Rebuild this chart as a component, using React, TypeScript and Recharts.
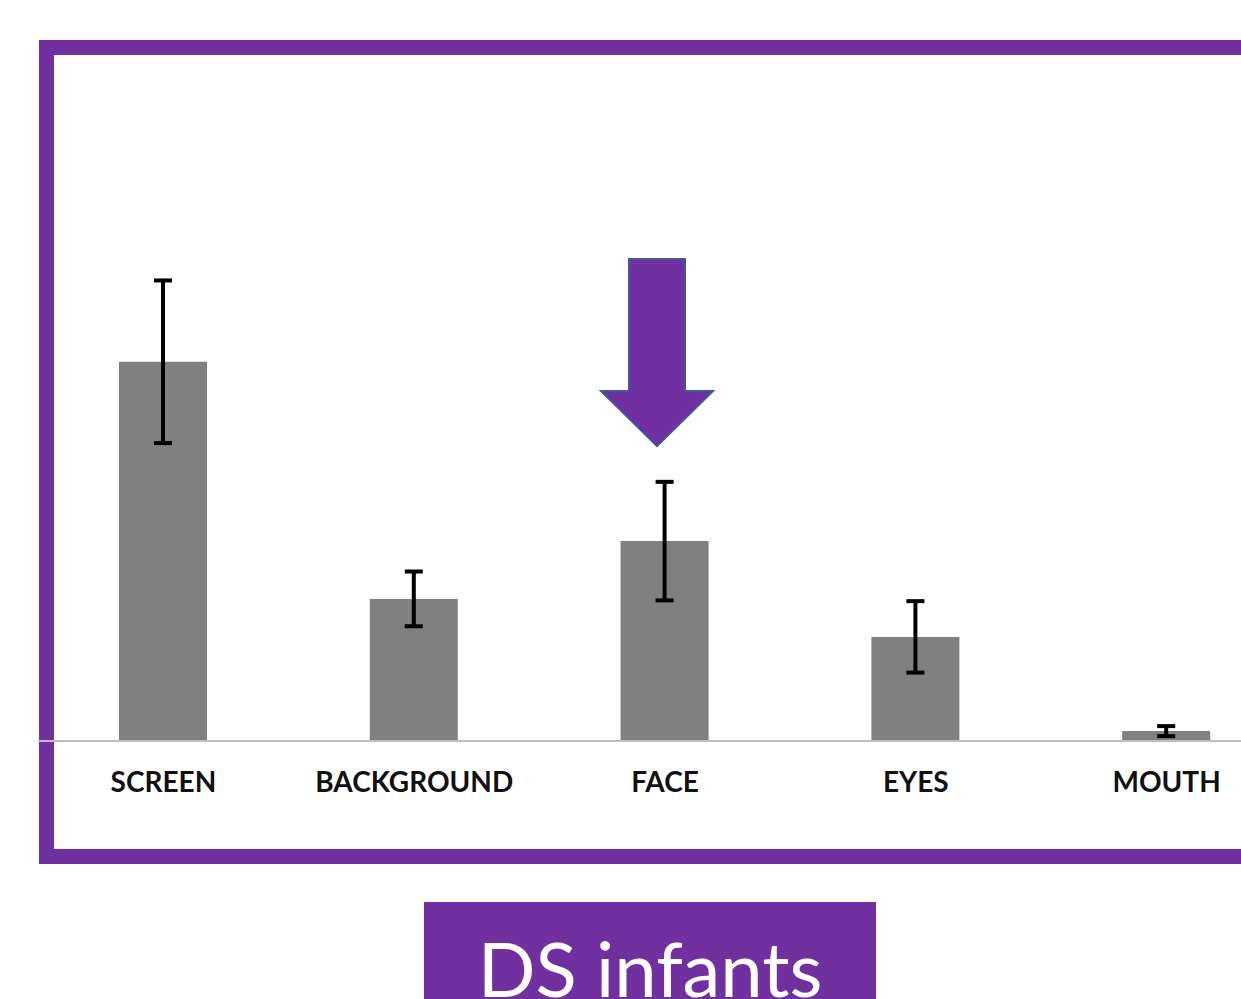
import { BarChart, Bar, XAxis, YAxis, ErrorBar, ReferenceDot } from 'recharts'

// looking-time proportions per area of interest
const categories = ['SCREEN', 'BACKGROUND', 'FACE', 'EYES', 'MOUTH']
const means = [0.499, 0.187, 0.263, 0.137, 0.013]
const errors = [0.107, 0.036, 0.078, 0.047, 0.0066]

const PURPLE = '#7030A0'

const data = categories.map((name, i) => ({
  name,
  value: means[i],
  err: errors[i],
}))

// down arrow pointing at the FACE bar; tip sits at the dot position (drawn a little left of centre, as in the slide)
const Arrow = (props: any) => {
  const cx = props.cx - 8
  const cy = props.cy
  const shaftW = 56
  const headW = 112
  const headH = 55
  const total = 187
  const top = cy - total
  const neck = cy - headH
  const d = [
    `M${cx - shaftW / 2},${top}`,
    `L${cx + shaftW / 2},${top}`,
    `L${cx + shaftW / 2},${neck}`,
    `L${cx + headW / 2},${neck}`,
    `L${cx},${cy}`,
    `L${cx - headW / 2},${neck}`,
    `L${cx - shaftW / 2},${neck}`,
    'Z',
  ].join(' ')
  return <path d={d} fill={PURPLE} stroke="#41589C" strokeWidth={2} />
}

export default function App() {
  return (
    <div
      style={{
        position: 'absolute',
        left: 0,
        top: 0,
        width: 1241,
        height: 999,
        overflow: 'hidden',
        background: '#fff',
        fontFamily: 'Lato, sans-serif',
      }}
    >
      <div
        style={{
          position: 'absolute',
          left: 39,
          top: 40,
          width: 1300,
          height: 794,
          border: `15px solid ${PURPLE}`,
        }}
      />
      <div style={{ position: 'absolute', left: 0, top: 0 }}>
        <BarChart
          width={1300}
          height={900}
          data={data}
          margin={{ top: 57, right: 8, left: 38, bottom: 0 }}
          barCategoryGap={0}
        >
          <YAxis hide domain={[0, 0.9]} />
          <XAxis
            dataKey="name"
            height={159}
            tickLine={false}
            axisLine={{ stroke: '#BFBFBF', strokeWidth: 2 }}
            tickMargin={25}
            tick={{ fill: '#111', fontSize: 28, fontWeight: 700, fontFamily: 'Lato, sans-serif' }}
            interval={0}
          />
          <Bar dataKey="value" fill="#808080" barSize={88} isAnimationActive={false}>
            <ErrorBar dataKey="err" width={9} stroke="#000" strokeWidth={4} />
          </Bar>
          <ReferenceDot x="FACE" y={0.388} ifOverflow="visible" shape={Arrow} />
        </BarChart>
      </div>
      <div
        style={{
          position: 'absolute',
          left: 424,
          top: 902,
          width: 452,
          height: 120,
          background: PURPLE,
          color: '#fff',
          fontFamily: 'Lato, sans-serif',
          fontSize: 76,
          lineHeight: '132px',
          textAlign: 'center',
        }}
      >
        DS infants
      </div>
    </div>
  )
}
